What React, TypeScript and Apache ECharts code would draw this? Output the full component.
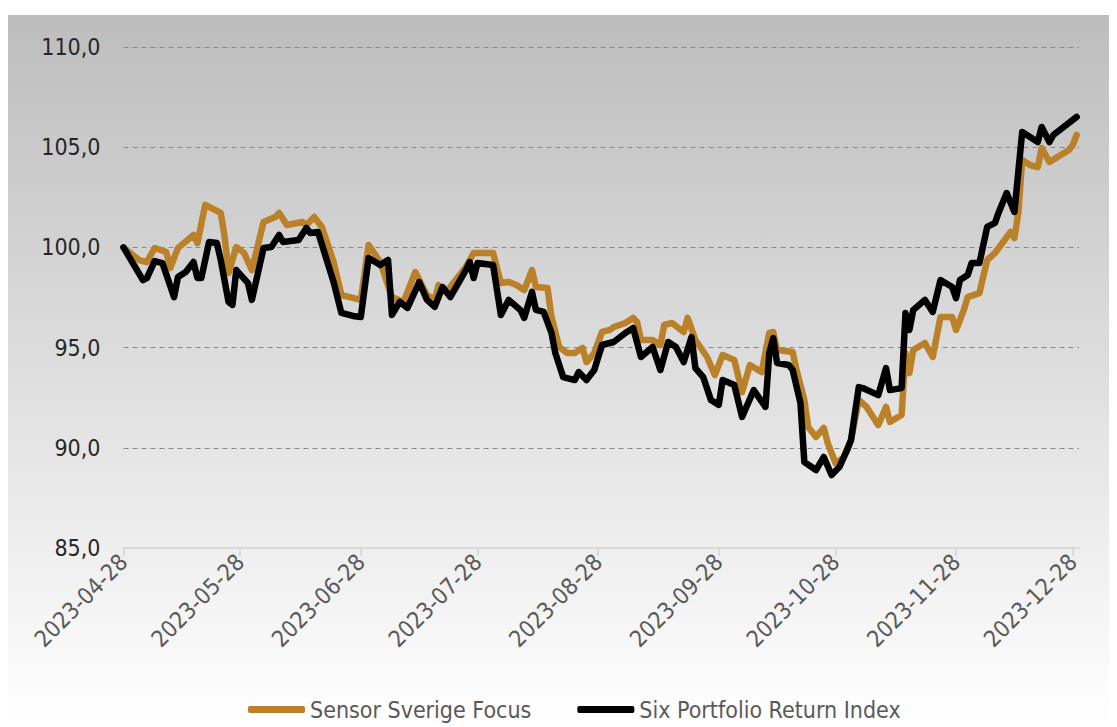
import React, { useEffect, useRef } from "react";
import * as echarts from "echarts";

const seriesNames = ["Sensor Sverige Focus", "Six Portfolio Return Index"];

const tickLabels = [
  "2023-04-28", "2023-05-28", "2023-06-28", "2023-07-28", "2023-08-28",
  "2023-09-28", "2023-10-28", "2023-11-28", "2023-12-28",
];

const sensorDates = [
  "2023-04-28", "2023-05-02", "2023-05-04", "2023-05-06", "2023-05-09", "2023-05-10", "2023-05-12",
  "2023-05-16", "2023-05-17", "2023-05-19", "2023-05-23", "2023-05-24", "2023-05-25", "2023-05-27",
  "2023-05-29", "2023-05-31", "2023-06-03", "2023-06-06", "2023-06-07", "2023-06-09", "2023-06-13",
  "2023-06-14", "2023-06-16", "2023-06-18", "2023-06-21", "2023-06-23", "2023-06-28", "2023-06-30",
  "2023-07-03", "2023-07-06", "2023-07-09", "2023-07-12", "2023-07-15", "2023-07-17", "2023-07-18",
  "2023-07-20", "2023-07-25", "2023-07-27", "2023-08-01", "2023-08-03", "2023-08-05", "2023-08-07",
  "2023-08-09", "2023-08-11", "2023-08-12", "2023-08-15", "2023-08-16", "2023-08-18", "2023-08-20",
  "2023-08-22", "2023-08-24", "2023-08-25", "2023-08-27", "2023-08-29", "2023-08-31", "2023-09-01",
  "2023-09-04", "2023-09-06", "2023-09-07", "2023-09-08", "2023-09-11", "2023-09-13", "2023-09-14",
  "2023-09-16", "2023-09-19", "2023-09-20", "2023-09-22", "2023-09-25", "2023-09-27", "2023-09-29",
  "2023-10-02", "2023-10-04", "2023-10-06", "2023-10-09", "2023-10-11", "2023-10-12", "2023-10-13",
  "2023-10-17", "2023-10-18", "2023-10-20", "2023-10-21", "2023-10-23", "2023-10-25", "2023-10-26",
  "2023-10-28", "2023-10-30", "2023-11-01", "2023-11-03", "2023-11-05", "2023-11-08", "2023-11-10",
  "2023-11-11", "2023-11-14", "2023-11-15", "2023-11-16", "2023-11-17", "2023-11-20", "2023-11-22",
  "2023-11-24", "2023-11-27", "2023-11-28", "2023-11-30", "2023-12-01", "2023-12-04", "2023-12-06",
  "2023-12-08", "2023-12-12", "2023-12-13", "2023-12-14", "2023-12-15", "2023-12-17", "2023-12-19",
  "2023-12-20", "2023-12-22", "2023-12-27", "2023-12-28", "2023-12-29",
];
const sensorValues = [
  100.0, 99.37, 99.27, 99.97, 99.77, 98.97, 99.97,
  100.62, 100.22, 102.12, 101.72, 100.52, 98.72, 100.02,
  99.72, 98.87, 101.27, 101.52, 101.72, 101.12, 101.27,
  101.12, 101.52, 101.02, 99.27, 97.62, 97.38, 100.12,
  99.27, 97.52, 97.28, 98.77, 97.62, 97.38, 98.12,
  97.77, 99.02, 99.72, 99.72, 98.22, 98.27, 98.12,
  97.87, 98.87, 98.02, 97.97, 96.53, 95.03, 94.73,
  94.73, 94.98, 94.28, 94.73, 95.78, 95.88, 96.03,
  96.23, 96.48, 96.28, 95.38, 95.38, 95.13, 96.13,
  96.23, 95.78, 96.48, 95.38, 94.53, 93.63, 94.63,
  94.38, 92.78, 94.13, 93.78, 95.73, 95.78, 94.88,
  94.78, 93.88, 92.38, 91.04, 90.54, 90.99, 90.24,
  89.24, 89.49, 90.39, 92.39, 92.04, 91.14, 92.04,
  91.29, 91.64, 94.73, 93.73, 94.88, 95.23, 94.53,
  96.53, 96.53, 95.88, 96.88, 97.52, 97.72, 99.37,
  99.72, 100.77, 100.47, 101.72, 104.36, 104.11, 104.01,
  104.96, 104.26, 104.86, 105.11, 105.61,
];

const sixDates = [
  "2023-04-28", "2023-05-03", "2023-05-04", "2023-05-06", "2023-05-08", "2023-05-11", "2023-05-12",
  "2023-05-14", "2023-05-16", "2023-05-17", "2023-05-18", "2023-05-20", "2023-05-22", "2023-05-23",
  "2023-05-25", "2023-05-26", "2023-05-27", "2023-05-30", "2023-05-31", "2023-06-03", "2023-06-05",
  "2023-06-07", "2023-06-08", "2023-06-12", "2023-06-14", "2023-06-15", "2023-06-17", "2023-06-21",
  "2023-06-23", "2023-06-26", "2023-06-28", "2023-06-30", "2023-07-03", "2023-07-05", "2023-07-06",
  "2023-07-08", "2023-07-10", "2023-07-13", "2023-07-15", "2023-07-17", "2023-07-19", "2023-07-21",
  "2023-07-25", "2023-07-26", "2023-07-27", "2023-07-28", "2023-08-01", "2023-08-03", "2023-08-05",
  "2023-08-08", "2023-08-09", "2023-08-11", "2023-08-12", "2023-08-14", "2023-08-16", "2023-08-17",
  "2023-08-19", "2023-08-22", "2023-08-23", "2023-08-25", "2023-08-27", "2023-08-29", "2023-09-01",
  "2023-09-04", "2023-09-06", "2023-09-08", "2023-09-11", "2023-09-13", "2023-09-15", "2023-09-17",
  "2023-09-19", "2023-09-21", "2023-09-22", "2023-09-24", "2023-09-26", "2023-09-28", "2023-09-29",
  "2023-10-02", "2023-10-04", "2023-10-05", "2023-10-07", "2023-10-10", "2023-10-11", "2023-10-12",
  "2023-10-13", "2023-10-16", "2023-10-17", "2023-10-19", "2023-10-20", "2023-10-23", "2023-10-25",
  "2023-10-27", "2023-10-29", "2023-10-31", "2023-11-01", "2023-11-03", "2023-11-04", "2023-11-08",
  "2023-11-10", "2023-11-11", "2023-11-14", "2023-11-15", "2023-11-16", "2023-11-17", "2023-11-20",
  "2023-11-22", "2023-11-24", "2023-11-27", "2023-11-28", "2023-11-29", "2023-12-01", "2023-12-02",
  "2023-12-04", "2023-12-06", "2023-12-08", "2023-12-09", "2023-12-11", "2023-12-13", "2023-12-15",
  "2023-12-19", "2023-12-20", "2023-12-22", "2023-12-23", "2023-12-29",
];
const sixValues = [
  100.0, 98.37, 98.47, 99.32, 99.22, 97.52, 98.52,
  98.77, 99.27, 98.47, 98.47, 100.27, 100.22, 99.37,
  97.28, 97.13, 98.87, 98.22, 97.38, 99.97, 100.02,
  100.62, 100.27, 100.37, 100.97, 100.72, 100.77, 98.27,
  96.73, 96.58, 96.53, 99.47, 99.12, 99.37, 96.63,
  97.28, 96.98, 98.27, 97.38, 97.03, 98.02, 97.52,
  98.87, 99.27, 98.47, 99.22, 99.12, 96.63, 97.38,
  96.88, 96.48, 97.78, 96.88, 96.78, 95.73, 94.73,
  93.53, 93.38, 93.78, 93.38, 93.88, 95.13, 95.28,
  95.73, 95.98, 94.53, 95.03, 93.88, 95.28, 95.03,
  94.28, 95.53, 93.98, 93.53, 92.38, 92.14, 93.38,
  93.13, 91.54, 91.99, 92.88, 92.04, 94.73, 95.48,
  94.23, 94.13, 93.88, 92.24, 89.29, 88.89, 89.54,
  88.64, 89.04, 89.89, 90.39, 93.03, 92.98, 92.63,
  93.98, 92.88, 92.98, 96.73, 95.88, 96.88, 97.38,
  96.78, 98.37, 98.02, 97.47, 98.37, 98.62, 99.22,
  99.22, 101.02, 101.22, 101.77, 102.71, 101.77, 105.76,
  105.26, 106.01, 105.26, 105.61, 106.51,
];

const DAY = 86400000;
const ts = (d: string) => new Date(d + "T00:00:00Z").getTime();
const fmtDate = (v: number) => new Date(v).toISOString().slice(0, 10);
const FONT = "'Liberation Sans Narrow', 'DejaVu Sans Condensed', 'Open Sans', sans-serif";

export default function App() {
  const ref = useRef<HTMLDivElement>(null);
  useEffect(() => {
    if (!ref.current) return;
    const chart = echarts.init(ref.current, undefined, { renderer: "svg" });
    const tickTs = tickLabels.map(ts);
    const sensorData = sensorDates.map((d, i) => [ts(d), sensorValues[i]]);
    const sixData = sixDates.map((d, i) => [ts(d), sixValues[i]]);
    chart.setOption({
      animation: false,
      backgroundColor: new echarts.graphic.LinearGradient(0, 0, 0, 1, [
        { offset: 0, color: "#bdbdbd" },
        { offset: 1, color: "#ffffff" },
      ]),
      grid: { left: 115.5, right: 38, top: 32, bottom: 179, containLabel: false },
      legend: {
        left: 235,
        top: 678,
        itemWidth: 57,
        itemHeight: 7,
        itemGap: 46,
        icon: "roundRect",
        textStyle: { color: "#595959", fontSize: 23, fontFamily: FONT },
        data: seriesNames,
      },
      xAxis: {
        type: "value",
        min: ts("2023-04-28"),
        max: ts("2023-12-29") + DAY * 0.6,
        splitLine: { show: false },
        axisLine: { show: true, lineStyle: { color: "#d9d9d9", width: 2 } },
        axisTick: {
          show: true,
          customValues: tickTs,
          length: 8,
          lineStyle: { color: "#d9d9d9", width: 2 },
        },
        axisLabel: {
          customValues: tickTs,
          rotate: 45,
          margin: 10,
          color: "#595959",
          fontSize: 23,
          fontFamily: FONT,
          formatter: (v: number) => fmtDate(v),
        },
      },
      yAxis: {
        type: "value",
        min: 85,
        max: 110,
        interval: 5,
        axisLine: { show: false },
        axisTick: { show: false },
        axisLabel: {
          margin: 23,
          color: "#262626",
          fontSize: 23,
          fontFamily: FONT,
          formatter: (v: number) => v.toFixed(1).replace(".", ","),
        },
        splitLine: {
          show: true,
          showMinLine: false,
          lineStyle: { color: "#8a8a8a", width: 1, type: [5, 4] },
        },
      },
      series: [
        {
          name: seriesNames[0],
          type: "line",
          data: sensorData,
          showSymbol: false,
          symbol: "none",
          itemStyle: { color: "#bb8128" },
          lineStyle: { color: "#bb8128", width: 6.5, cap: "round", join: "round" },
          z: 2,
        },
        {
          name: seriesNames[1],
          type: "line",
          data: sixData,
          showSymbol: false,
          symbol: "none",
          itemStyle: { color: "#000000" },
          lineStyle: { color: "#000000", width: 6.5, cap: "round", join: "round" },
          z: 3,
        },
      ],
    });
    return () => chart.dispose();
  }, []);
  return (
    <div style={{ paddingTop: 7 }}>
      <div ref={ref} style={{ width: 1109, height: 712 }} />
    </div>
  );
}
